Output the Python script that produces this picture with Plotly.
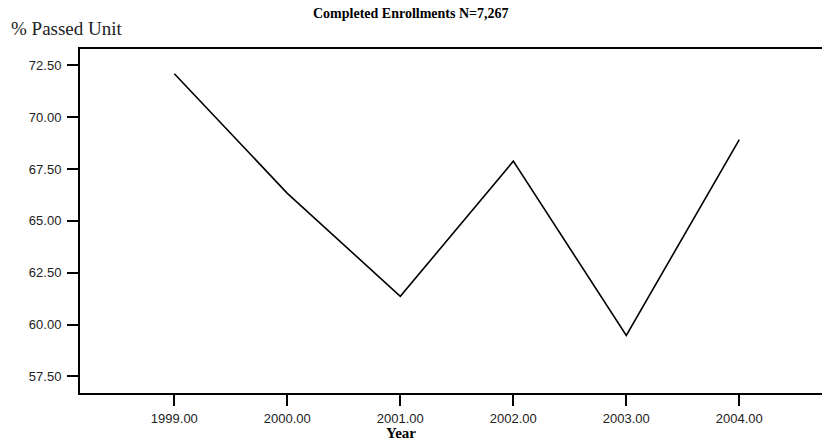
import plotly.graph_objects as go

years = [1999, 2000, 2001, 2002, 2003, 2004]
pct_passed = [72.10, 66.33, 61.36, 67.88, 59.48, 68.92]
x_ticks = [1999, 2000, 2001, 2002, 2003, 2004]
x_tick_labels = ["1999.00", "2000.00", "2001.00", "2002.00", "2003.00", "2004.00"]
y_ticks = [57.5, 60.0, 62.5, 65.0, 67.5, 70.0, 72.5]
y_tick_labels = ["57.50", "60.00", "62.50", "65.00", "67.50", "70.00", "72.50"]

W, H = 822, 443
L, R, T, B = 80, 0, 49, 50
pw, ph = W - L - R, H - T - B

def px(x):
    return (x - L) / pw

def py(y):
    return (H - B - y) / ph

fig = go.Figure()
fig.add_trace(go.Scatter(
    x=years, y=pct_passed, mode="lines",
    line=dict(color="black", width=1.6),
    hoverinfo="x+y", showlegend=False,
))

serif = "Liberation Serif, Times New Roman, serif"
sans = "Liberation Sans, Arial, sans-serif"

fig.update_layout(
    width=W, height=H,
    margin=dict(l=L, r=R, t=T, b=B),
    paper_bgcolor="white", plot_bgcolor="white",
    xaxis=dict(
        range=[1998.165, 2004.732],
        tickvals=x_ticks, ticktext=x_tick_labels,
        showgrid=False, zeroline=False,
        showline=True, linecolor="black", linewidth=2, mirror=True,
        ticks="outside", ticklen=11, tickwidth=1.5, tickcolor="black",
        ticklabelstandoff=1,
        tickfont=dict(family=sans, size=13, color="#222"),
    ),
    yaxis=dict(
        range=[56.70, 73.29],
        tickvals=y_ticks, ticktext=y_tick_labels,
        showgrid=False, zeroline=False,
        showline=True, linecolor="black", linewidth=2,
        ticks="outside", ticklen=11, tickwidth=1.5, tickcolor="black",
        ticklabelstandoff=3,
        tickfont=dict(family=sans, size=13, color="#222"),
    ),
    annotations=[
        dict(text="<b>Completed Enrollments N=7,267</b>", xref="paper", yref="paper",
             x=px(411), y=py(13), xanchor="center", yanchor="middle", showarrow=False,
             font=dict(family=serif, size=14, color="black")),
        dict(text="% Passed Unit", xref="paper", yref="paper",
             x=px(9), y=py(29), xanchor="left", yanchor="middle", showarrow=False,
             font=dict(family=serif, size=19, color="#222")),
        dict(text="<b>Year</b>", xref="paper", yref="paper",
             x=px(401), y=py(433), xanchor="center", yanchor="middle", showarrow=False,
             font=dict(family=serif, size=15, color="black")),
    ],
)

fig.write_html("out.html", config={"displayModeBar": False},
               post_script="document.body.style.margin='0';document.body.style.overflow='hidden';")
